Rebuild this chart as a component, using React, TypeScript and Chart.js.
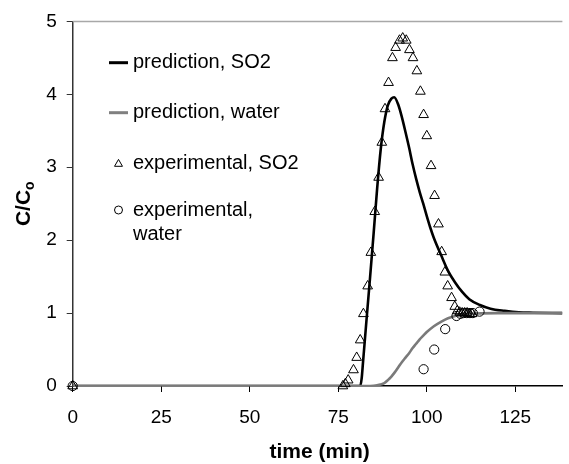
import React, { useEffect, useRef } from "react";
import { Chart, registerables } from "chart.js";

Chart.register(...registerables);

// prediction, SO2 (line)
const predSO2Time = [0, 81.2, 81.6, 82, 83, 84, 85, 86, 87, 88, 89, 90, 90.8, 92, 93, 94, 95, 96, 97, 98, 99, 100, 101, 102, 104, 106, 108, 110, 112, 115, 118, 122, 126, 130, 138.3];
const predSO2Conc = [0, 0, 0.1, 0.33, 0.92, 1.5, 2.1, 2.72, 3.25, 3.62, 3.85, 3.94, 3.96, 3.85, 3.68, 3.48, 3.27, 3.04, 2.84, 2.66, 2.5, 2.33, 2.17, 2.03, 1.8, 1.58, 1.42, 1.29, 1.19, 1.11, 1.06, 1.03, 1.01, 1.005, 1.0];

// prediction, water (line)
const predWaterTime = [0, 84, 86, 88, 89, 90, 91, 92, 93, 94, 95, 96, 97, 98, 99, 100, 102, 104, 106, 108, 110, 114, 120, 138.3];
const predWaterConc = [0, 0, 0.01, 0.04, 0.08, 0.13, 0.19, 0.26, 0.33, 0.39, 0.45, 0.52, 0.58, 0.64, 0.69, 0.74, 0.82, 0.88, 0.93, 0.96, 0.98, 0.995, 1.0, 1.0];

// experimental, SO2 (triangles)
const expSO2Time = [0, 76.3, 77.0, 77.8, 79.3, 80.2, 81.2, 82.1, 83.3, 84.2, 85.3, 86.4, 87.3, 88.2, 89.2, 90.3, 91.2, 92.3, 93.2, 94.2, 95.1, 96.1, 97.2, 98.2, 99.1, 100.0, 101.2, 102.2, 103.3, 104.2, 105.1, 105.9, 107.0, 107.9, 108.6, 109.3, 110.0, 110.7, 111.4, 112.1, 112.8];
const expSO2Conc = [0, 0.0, 0.03, 0.08, 0.22, 0.39, 0.63, 0.99, 1.37, 1.83, 2.39, 2.86, 3.34, 3.8, 4.16, 4.5, 4.64, 4.74, 4.77, 4.74, 4.61, 4.5, 4.32, 4.04, 3.72, 3.43, 3.02, 2.61, 2.22, 1.84, 1.56, 1.37, 1.21, 1.09, 1.03, 1.01, 1.0, 1.0, 1.0, 0.99, 0.99];

// experimental, water (circles)
const expWaterTime = [0, 99.1, 102.1, 105.2, 108.4, 109.5, 110.4, 111.3, 112.2, 113.0, 114.9];
const expWaterConc = [0, 0.23, 0.5, 0.78, 0.96, 0.99, 1.0, 1.0, 1.0, 1.0, 1.02];

const xTickStep = 25;
const yTickStep = 1;
const xMax = 138.3;
const yMax = 5;

const legendLabels = ["prediction, SO2", "prediction, water", "experimental, SO2", "experimental,", "water"];
const xTitle = "time (min)";
const yTitleMain = "C/C";
const yTitleSub = "o";

const pts = (xs: number[], ys: number[]) => xs.map((x, i) => ({ x, y: ys[i] }));

const FONT = "'Liberation Sans', Arial, Helvetica, sans-serif";

const overlay = {
  id: "overlay",
  afterDraw(chart: any) {
    const ctx = chart.ctx;
    const a = chart.chartArea;
    ctx.save();
    // top border
    ctx.strokeStyle = "#a8a8a8";
    ctx.lineWidth = 1.5;
    ctx.beginPath();
    ctx.moveTo(a.left, a.top);
    ctx.lineTo(a.right, a.top);
    ctx.stroke();

    // legend
    ctx.fillStyle = "#000";
    ctx.font = `20px ${FONT}`;
    ctx.textBaseline = "middle";
    ctx.textAlign = "left";
    const tx = 133;
    const rows = [62.7, 112.7, 163, 210, 234];
    ctx.lineWidth = 3;
    ctx.strokeStyle = "#000";
    ctx.beginPath();
    ctx.moveTo(109, rows[0]);
    ctx.lineTo(128, rows[0]);
    ctx.stroke();
    ctx.strokeStyle = "#808080";
    ctx.beginPath();
    ctx.moveTo(109, rows[1]);
    ctx.lineTo(128, rows[1]);
    ctx.stroke();
    // triangle
    ctx.strokeStyle = "#000";
    ctx.lineWidth = 1;
    const r = 4.6;
    const cx = 118.5;
    const cy = rows[2] + 1;
    ctx.beginPath();
    ctx.moveTo(cx, cy - r);
    ctx.lineTo(cx + r * Math.sin((2 * Math.PI) / 3), cy - r * Math.cos((2 * Math.PI) / 3));
    ctx.lineTo(cx + r * Math.sin((4 * Math.PI) / 3), cy - r * Math.cos((4 * Math.PI) / 3));
    ctx.closePath();
    ctx.stroke();
    // circle
    ctx.beginPath();
    ctx.arc(118.5, rows[3], 4, 0, Math.PI * 2);
    ctx.stroke();
    for (let i = 0; i < legendLabels.length; i++) {
      ctx.fillText(legendLabels[i], tx, rows[i]);
    }

    // x title
    ctx.font = `bold 21px ${FONT}`;
    ctx.textAlign = "center";
    ctx.textBaseline = "middle";
    ctx.fillText(xTitle, (a.left + a.right) / 2 + 2, 452);

    // y title
    ctx.save();
    ctx.translate(29.5, (a.top + a.bottom) / 2);
    ctx.rotate(-Math.PI / 2);
    ctx.textBaseline = "alphabetic";
    ctx.textAlign = "left";
    ctx.font = `bold 21px ${FONT}`;
    const wMain = ctx.measureText(yTitleMain).width;
    ctx.font = `bold 14px ${FONT}`;
    const wSub = ctx.measureText(yTitleSub).width;
    const start = -(wMain + wSub) / 2;
    ctx.font = `bold 21px ${FONT}`;
    ctx.fillText(yTitleMain, start, 0);
    ctx.font = `bold 14px ${FONT}`;
    ctx.fillText(yTitleSub, start + wMain, 4);
    ctx.restore();

    ctx.restore();
  },
};

export default function App() {
  const ref = useRef<HTMLCanvasElement | null>(null);
  useEffect(() => {
    if (!ref.current) return;
    const chart = new Chart(ref.current, {
      type: "scatter",
      data: {
        datasets: [
          {
            label: "experimental, SO2",
            data: pts(expSO2Time, expSO2Conc),
            pointStyle: "triangle",
            pointRadius: 5.6,
            pointBorderWidth: 1,
            borderColor: "#000",
            backgroundColor: "rgba(255,255,255,0)",
            showLine: false,
            clip: false,
            order: 1,
          },
          {
            label: "experimental, water",
            data: pts(expWaterTime, expWaterConc),
            pointStyle: "circle",
            pointRadius: 4.6,
            pointBorderWidth: 1,
            borderColor: "#000",
            backgroundColor: "rgba(255,255,255,0)",
            showLine: false,
            clip: false,
            order: 2,
          },
          {
            label: "prediction, SO2",
            data: pts(predSO2Time, predSO2Conc),
            showLine: true,
            borderColor: "#000",
            borderWidth: 2.6,
            pointRadius: 0,
            cubicInterpolationMode: "monotone",
            order: 4,
          },
          {
            label: "prediction, water",
            data: pts(predWaterTime, predWaterConc),
            showLine: true,
            borderColor: "#7a7a7a",
            borderWidth: 2.6,
            pointRadius: 0,
            cubicInterpolationMode: "monotone",
            order: 3,
          },
        ],
      },
      options: {
        animation: false,
        responsive: false,
        devicePixelRatio: 1,
        layout: { padding: { left: 0, top: 20, right: 0, bottom: 0 } },
        plugins: { legend: { display: false }, tooltip: { enabled: false } },
        scales: {
          x: {
            type: "linear",
            min: 0,
            max: xMax,
            afterFit: (s: any) => {
              s.height = 78;
            },
            ticks: {
              stepSize: xTickStep,
              includeBounds: false,
              color: "#000",
              font: { family: FONT, size: 19 },
              padding: 14,
              maxRotation: 0,
            },
            grid: { drawOnChartArea: false, drawTicks: true, tickLength: 6, color: "#000", lineWidth: 1 },
            border: { display: true, color: "#000", width: 1.5 },
          },
          y: {
            type: "linear",
            min: 0,
            max: yMax,
            afterFit: (s: any) => {
              s.width = 72.7;
            },
            ticks: {
              stepSize: yTickStep,
              color: "#000",
              font: { family: FONT, size: 19 },
              padding: 10,
            },
            grid: { drawOnChartArea: false, drawTicks: true, tickLength: 6, color: "#333", lineWidth: 1 },
            border: { display: true, color: "#333", width: 1.5 },
          },
        },
      },
      plugins: [overlay],
    });
    return () => chart.destroy();
  }, []);
  return (
    <div style={{ position: "fixed", left: 0, top: 0, width: 569, height: 464, background: "#fff" }}>
      <canvas ref={ref} width={569} height={464} />
    </div>
  );
}
